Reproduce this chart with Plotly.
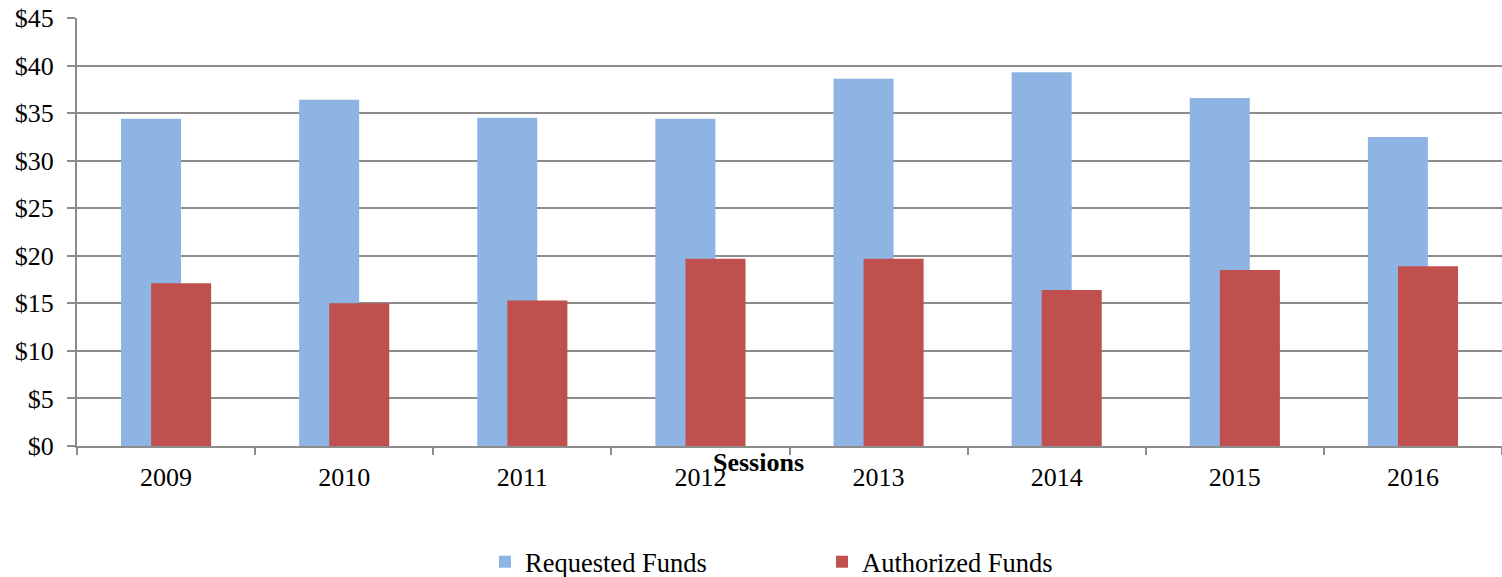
import plotly.graph_objects as go

sessions = ["2009", "2010", "2011", "2012", "2013", "2014", "2015", "2016"]
requested = [34.4, 36.4, 34.5, 34.4, 38.6, 39.3, 36.6, 32.5]
authorized = [17.1, 15.0, 15.3, 19.7, 19.7, 16.4, 18.5, 18.9]

FONT = "Liberation Serif, Times New Roman, serif"
GRID = "#8c8c8c"

fig = go.Figure()
fig.add_trace(go.Bar(x=sessions, y=requested, name="Requested Funds",
                     marker=dict(color="#8EB4E3", line=dict(width=0)),
                     width=0.337, offset=-0.253))
fig.add_trace(go.Bar(x=sessions, y=authorized, name="Authorized Funds",
                     marker=dict(color="#C0504D", line=dict(width=0)),
                     width=0.337, offset=-0.084))

fig.update_layout(
    width=1502, height=577,
    margin=dict(l=77, r=0, t=18, b=131, autoexpand=False),
    barmode="overlay",
    plot_bgcolor="white", paper_bgcolor="white",
    font=dict(family=FONT, size=26, color="black"),
    legend=dict(orientation="h", xref="container", x=485/1502, xanchor="left",
                yref="container", y=1 - 562/577, yanchor="middle",
                entrywidth=292, entrywidthmode="pixels",
                font=dict(size=26.5), itemwidth=30, tracegroupgap=0,
                bgcolor="rgba(0,0,0,0)"),
    xaxis=dict(type="category", tickson="boundaries", ticks="outside", ticklen=7,
               tickcolor=GRID, tickwidth=2, showline=True, linecolor=GRID, linewidth=2,
               showgrid=False, ticklabelstandoff=7, automargin=False),
    yaxis=dict(range=[0, 45], dtick=5, tickprefix="$", ticks="outside", ticklen=8,
               tickcolor=GRID, tickwidth=2, showline=True, linecolor=GRID, linewidth=2,
               showgrid=True, gridcolor=GRID, gridwidth=2, zeroline=False,
               ticklabelstandoff=8, automargin=False),
    annotations=[dict(text="<b>Sessions</b>", x=0.478, xref="paper", y=0, yref="paper",
                      yshift=-16, yanchor="middle", showarrow=False,
                      font=dict(size=26, family=FONT))],
)

fig.write_html("out.html",
               config={"displayModeBar": False},
               post_script="document.body.style.margin='0px';"
                           "document.body.style.overflow='hidden';")
